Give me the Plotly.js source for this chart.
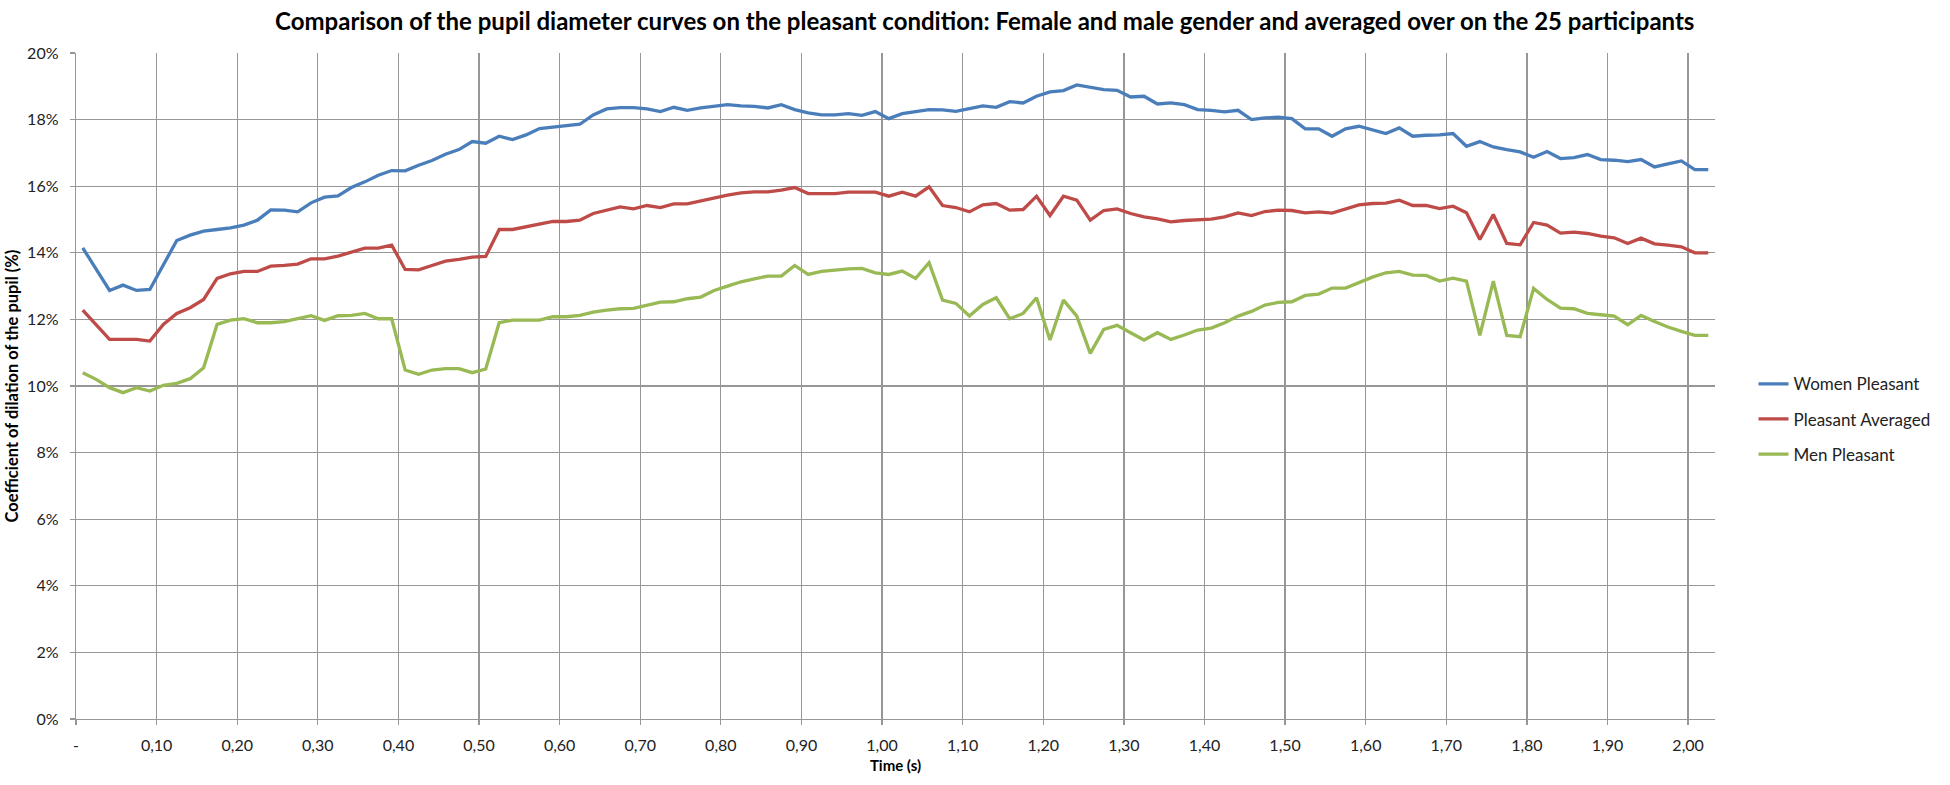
<!DOCTYPE html>
<html>
<head>
<meta charset="utf-8">
<script src="https://cdn.plot.ly/plotly-3.0.1.min.js"></script>
<style>html,body{margin:0;padding:0;background:#fff;}#chart{width:1950px;height:785px;}</style>
</head>
<body>
<div id="chart"></div>
<script>
// Time categories (s), one sample every 1/60 s
const time = [
0, 0.0167, 0.0333, 0.05, 0.0667, 0.0833, 0.1, 0.1167, 0.1333, 0.15,
0.1667, 0.1833, 0.2, 0.2167, 0.2333, 0.25, 0.2667, 0.2833, 0.3, 0.3167,
0.3333, 0.35, 0.3667, 0.3833, 0.4, 0.4167, 0.4333, 0.45, 0.4667, 0.4833,
0.5, 0.5167, 0.5333, 0.55, 0.5667, 0.5833, 0.6, 0.6167, 0.6333, 0.65,
0.6667, 0.6833, 0.7, 0.7167, 0.7333, 0.75, 0.7667, 0.7833, 0.8, 0.8167,
0.8333, 0.85, 0.8667, 0.8833, 0.9, 0.9167, 0.9333, 0.95, 0.9667, 0.9833,
1.0, 1.0167, 1.0333, 1.05, 1.0667, 1.0833, 1.1, 1.1167, 1.1333, 1.15,
1.1667, 1.1833, 1.2, 1.2167, 1.2333, 1.25, 1.2667, 1.2833, 1.3, 1.3167,
1.3333, 1.35, 1.3667, 1.3833, 1.4, 1.4167, 1.4333, 1.45, 1.4667, 1.4833,
1.5, 1.5167, 1.5333, 1.55, 1.5667, 1.5833, 1.6, 1.6167, 1.6333, 1.65,
1.6667, 1.6833, 1.7, 1.7167, 1.7333, 1.75, 1.7667, 1.7833, 1.8, 1.8167,
1.8333, 1.85, 1.8667, 1.8833, 1.9, 1.9167, 1.9333, 1.95, 1.9667, 1.9833,
2.0, 2.0167
];

const womenPleasant = [
14.15, 13.53, 12.87, 13.03, 12.87, 12.9, 13.64, 14.37, 14.53, 14.65,
14.7, 14.75, 14.83, 14.98, 15.29, 15.28, 15.23, 15.5, 15.67, 15.71,
15.96, 16.13, 16.33, 16.47, 16.46, 16.63, 16.77, 16.96, 17.1, 17.34,
17.29, 17.5, 17.4, 17.54, 17.73, 17.78, 17.82, 17.86, 18.14, 18.32,
18.36, 18.36, 18.32, 18.24, 18.37, 18.28, 18.35, 18.41, 18.45, 18.41,
18.4, 18.35, 18.45, 18.3, 18.2, 18.14, 18.14, 18.18, 18.13, 18.24,
18.03, 18.18, 18.23, 18.3, 18.29, 18.25, 18.33, 18.41, 18.37, 18.54,
18.5, 18.7, 18.83, 18.87, 19.04, 18.97, 18.9, 18.88, 18.68, 18.7,
18.47, 18.5, 18.45, 18.3, 18.28, 18.23, 18.28, 18.0, 18.05, 18.07,
18.03, 17.72, 17.72, 17.5, 17.72, 17.8, 17.7, 17.58, 17.75, 17.5,
17.53, 17.54, 17.58, 17.2, 17.34, 17.18, 17.1, 17.03, 16.87, 17.04,
16.83, 16.86, 16.95, 16.8, 16.78, 16.74, 16.8, 16.58, 16.67, 16.76,
16.5, 16.5
];

const pleasantAveraged = [
12.28, 11.85, 11.4, 11.4, 11.4, 11.35, 11.85, 12.18, 12.35, 12.6,
13.23, 13.37, 13.44, 13.44, 13.6, 13.62, 13.66, 13.82, 13.82, 13.9,
14.02, 14.14, 14.14, 14.23, 13.5, 13.49, 13.62, 13.75, 13.8, 13.87,
13.89, 14.7, 14.7, 14.78, 14.86, 14.94, 14.94, 14.98, 15.18, 15.28,
15.38, 15.32, 15.42, 15.36, 15.47, 15.47, 15.56, 15.66, 15.73, 15.8,
15.83, 15.83, 15.88, 15.96, 15.78, 15.78, 15.78, 15.82, 15.82, 15.82,
15.7, 15.82, 15.7, 15.98, 15.42, 15.36, 15.23, 15.44, 15.48, 15.28,
15.3, 15.7, 15.12, 15.7, 15.58, 14.98, 15.27, 15.32, 15.18, 15.08,
15.02, 14.93, 14.97, 14.98, 15.01, 15.08, 15.2, 15.12, 15.24, 15.28,
15.27, 15.2, 15.23, 15.19, 15.32, 15.44, 15.48, 15.49, 15.58, 15.42,
15.42, 15.33, 15.4, 15.2, 14.4, 15.15, 14.28, 14.24, 14.91, 14.83,
14.59, 14.62, 14.58, 14.5, 14.45, 14.28, 14.44, 14.27, 14.23, 14.18,
14.0, 14.0
];

const menPleasant = [
10.4, 10.2, 9.95, 9.8, 9.95, 9.85, 10.02, 10.08, 10.22, 10.55,
11.85, 11.98, 12.02, 11.9, 11.9, 11.93, 12.02, 12.11, 11.97, 12.11,
12.12, 12.18, 12.02, 12.02, 10.48, 10.35, 10.48, 10.52, 10.52, 10.4,
10.51, 11.9, 11.98, 11.98, 11.98, 12.08, 12.08, 12.12, 12.22, 12.28,
12.32, 12.33, 12.43, 12.52, 12.53, 12.62, 12.67, 12.87, 13.0, 13.13,
13.22, 13.3, 13.3, 13.62, 13.35, 13.44, 13.48, 13.52, 13.53, 13.4,
13.35, 13.45, 13.23, 13.7, 12.58, 12.48, 12.1, 12.45, 12.65, 12.02,
12.18, 12.65, 11.38, 12.58, 12.1, 10.98, 11.7, 11.82, 11.6, 11.38,
11.6, 11.4, 11.53, 11.68, 11.74, 11.9, 12.1, 12.24, 12.43, 12.51,
12.53, 12.72, 12.76, 12.94, 12.94, 13.1, 13.27, 13.4, 13.44, 13.33,
13.32, 13.15, 13.24, 13.15, 11.52, 13.15, 11.52, 11.48, 12.93, 12.6,
12.34, 12.32, 12.18, 12.14, 12.1, 11.84, 12.12, 11.94, 11.77, 11.64,
11.52, 11.52
];

const xTickLabels = ["-", "0,10", "0,20", "0,30", "0,40", "0,50", "0,60", "0,70", "0,80", "0,90",
  "1,00", "1,10", "1,20", "1,30", "1,40", "1,50", "1,60", "1,70", "1,80", "1,90", "2,00"];
const yTickVals = [0, 2, 4, 6, 8, 10, 12, 14, 16, 18, 20];

// Category axis: each sample occupies a 1/60 s slot, gridlines sit on slot boundaries
const half = 1 / 120;
const xTickVals = xTickLabels.map((_, j) => j * 0.1 - half);

const FONT = 'Lato, "Open Sans", "Liberation Sans", sans-serif';
const GRID = '#979797';

const traces = [
  {x: time, y: womenPleasant, name: 'Women Pleasant', legendgroup: 'a', type: 'scatter', mode: 'lines',
   line: {color: '#4A7EBB', width: 3.3}},
  {x: time, y: pleasantAveraged, name: 'Pleasant Averaged', legendgroup: 'b', type: 'scatter', mode: 'lines',
   line: {color: '#BE4B48', width: 3.3}},
  {x: time, y: menPleasant, name: 'Men Pleasant', legendgroup: 'c', type: 'scatter', mode: 'lines',
   line: {color: '#98B954', width: 3.3}}
];

const layout = {
  width: 1950, height: 785,
  margin: {l: 76, r: 235, t: 53, b: 66},
  paper_bgcolor: '#fff', plot_bgcolor: '#fff',
  font: {family: FONT, color: '#1a1a1a', size: 15},
  title: {
    text: '<b>Comparison of the pupil diameter curves on the pleasant condition: Female and male gender and averaged over on the 25 participants</b>',
    font: {family: FONT, size: 24, color: '#000'},
    xref: 'container', x: 0.505, xanchor: 'center',
    yref: 'container', y: 0.972, yanchor: 'middle'
  },
  xaxis: {
    range: [-half, time[time.length - 1] + half],
    tickmode: 'array', tickvals: xTickVals, ticktext: xTickLabels,
    showgrid: true, gridcolor: GRID, gridwidth: 1.3,
    showline: true, linecolor: GRID, linewidth: 1.3,
    ticks: 'outside', ticklen: 5, tickcolor: GRID, tickwidth: 1.3,
    ticklabelstandoff: 6,
    zeroline: false, fixedrange: true,
    tickfont: {size: 16, family: FONT, color: '#222'},
    title: {text: '<b>Time (s)</b>', font: {size: 15, family: FONT, color: '#000'}, standoff: 8}
  },
  yaxis: {
    range: [0, 20],
    tickmode: 'array', tickvals: yTickVals, ticktext: yTickVals.map(v => v + '%'),
    showgrid: true, gridcolor: GRID, gridwidth: 1.3,
    showline: true, linecolor: GRID, linewidth: 1.3,
    ticks: 'outside', ticklen: 5, tickcolor: GRID, tickwidth: 1.3,
    ticklabelstandoff: 8,
    zeroline: false, fixedrange: true,
    tickfont: {size: 16, family: FONT, color: '#222'},
    title: {text: '<b>Coefficient of dilation of the pupil (%)</b>', font: {size: 16.5, family: FONT, color: '#000'}, standoff: 4}
  },
  showlegend: true,
  legend: {
    x: 1.0235, xanchor: 'left', y: 0.45, yanchor: 'middle',
    traceorder: 'grouped', tracegroupgap: 10,
    font: {size: 17, family: FONT, color: '#222'},
    bgcolor: 'rgba(0,0,0,0)', borderwidth: 0
  }
};

Plotly.newPlot('chart', traces, layout, {displayModeBar: false, staticPlot: true});
</script>
</body>
</html>
